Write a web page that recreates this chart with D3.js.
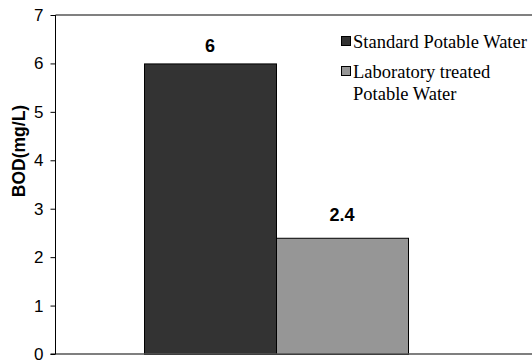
<!DOCTYPE html>
<html>
<head>
<meta charset="utf-8">
<script src="https://cdn.jsdelivr.net/npm/d3@7"></script>
<style>
  html, body { margin: 0; padding: 0; background: #fff; }
  svg { display: block; }
</style>
</head>
<body>
<svg id="chart" width="532" height="360"></svg>
<script>
// BOD of the two water samples
const seriesNames = ["Standard Potable Water", "Laboratory treated Potable Water"];
const seriesValues = [6, 2.4];
const yTicks = [0, 1, 2, 3, 4, 5, 6, 7];

// styling
const seriesColors = ["#333333", "#969696"];
const labelGap = [11, 17];
const legendLines = [["Standard Potable Water"], ["Laboratory treated", "Potable Water"]];

const svg = d3.select("#chart");
const axisX = 55.5;
const plotRight = 532;

const y = d3.scaleLinear().domain([0, 7]).range([354, 15]);
const x = d3.scaleBand().domain(seriesNames).range([144, 408]).paddingInner(0).paddingOuter(0);

// top border of the plot area
svg.append("line")
  .attr("x1", axisX).attr("x2", plotRight)
  .attr("y1", y(7)).attr("y2", y(7))
  .attr("stroke", "#808080").attr("stroke-width", 2);

// bars
svg.selectAll("rect.bar")
  .data(seriesValues)
  .join("rect")
  .attr("class", "bar")
  .attr("x", (d, i) => x(seriesNames[i]) + 0.5)
  .attr("y", d => y(d) + 0.5)
  .attr("width", x.bandwidth())
  .attr("height", d => y(0) - y(d))
  .attr("fill", (d, i) => seriesColors[i])
  .attr("stroke", "#000")
  .attr("stroke-width", 1);

// value labels
svg.selectAll("text.val")
  .data(seriesValues)
  .join("text")
  .attr("class", "val")
  .attr("x", (d, i) => x(seriesNames[i]) + x.bandwidth() / 2)
  .attr("y", (d, i) => y(d) - labelGap[i])
  .attr("text-anchor", "middle")
  .attr("font-family", "Liberation Sans, Arial, sans-serif")
  .attr("font-weight", "bold")
  .attr("font-size", 18)
  .text(d => d);

// baseline
svg.append("line")
  .attr("x1", axisX - 5).attr("x2", plotRight)
  .attr("y1", y(0)).attr("y2", y(0))
  .attr("stroke", "#555").attr("stroke-width", 1.5);

// y axis
const yAxis = d3.axisLeft(y).tickValues(yTicks).tickSize(5).tickFormat(d3.format("d"));
const gy = svg.append("g")
  .attr("transform", `translate(${axisX},0)`)
  .call(yAxis);
gy.select(".domain").attr("stroke", "#000").attr("d", `M0,${y(7)}V${y(0)}`);
gy.selectAll(".tick line").attr("stroke", "#000");
gy.selectAll(".tick text")
  .attr("x", -12)
  .attr("font-family", "Liberation Sans, Arial, sans-serif")
  .attr("font-size", 17)
  .attr("fill", "#000");

// y axis title
svg.append("text")
  .attr("transform", `translate(25,151) rotate(-90)`)
  .attr("text-anchor", "middle")
  .attr("font-family", "Liberation Sans, Arial, sans-serif")
  .attr("font-weight", "bold")
  .attr("font-size", 17.5)
  .text("BOD(mg/L)");

// legend
const legendY = [48, 78];
const legend = svg.append("g");
seriesNames.forEach((name, i) => {
  legend.append("rect")
    .attr("x", 341.5).attr("y", legendY[i] - 11.5)
    .attr("width", 9).attr("height", 9)
    .attr("fill", seriesColors[i])
    .attr("stroke", "#000").attr("stroke-width", 1);
  const t = legend.append("text")
    .attr("x", 353).attr("y", legendY[i])
    .attr("font-family", "Liberation Serif, Times New Roman, serif")
    .attr("font-size", 18.5)
    .attr("fill", "#000");
  legendLines[i].forEach((line, j) => {
    t.append("tspan").attr("x", 353).attr("dy", j === 0 ? 0 : 22).text(line);
  });
});
</script>
</body>
</html>
